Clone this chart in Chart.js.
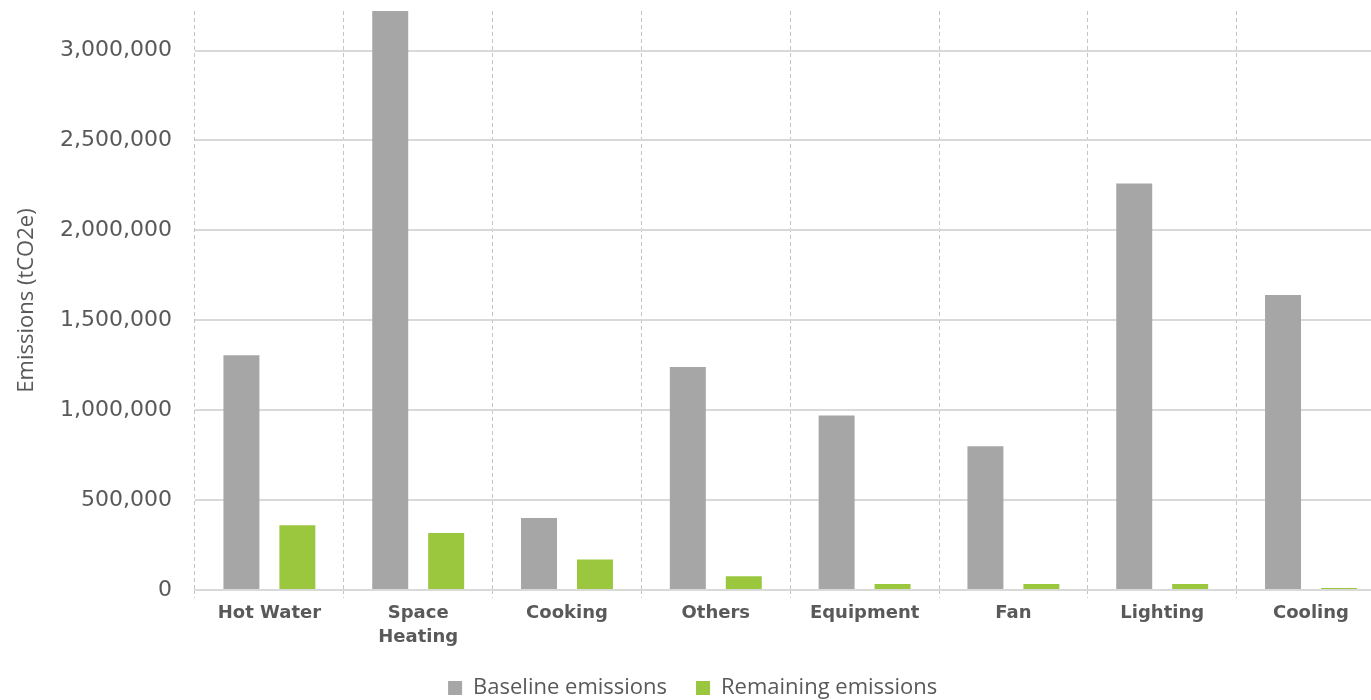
<!DOCTYPE html>
<html>
<head>
<meta charset="utf-8">
<style>
  html, body { margin: 0; padding: 0; background: #ffffff; overflow: hidden; }
  #wrap { width: 1400px; height: 700px; }
</style>
<script src="https://cdn.jsdelivr.net/npm/chart.js@4.4.1/dist/chart.umd.min.js"></script>
</head>
<body>
<div id="wrap"><canvas id="chart" width="1400" height="700"></canvas></div>
<script>
// End-use categories (two-line labels are arrays)
const categories = ['Hot Water', ['Space', 'Heating'], 'Cooking', 'Others', 'Equipment', 'Fan', 'Lighting', 'Cooling'];

// Emissions by end use, tCO2e
const baselineEmissions  = [1305000, 3300000, 400000, 1240000, 970000, 800000, 2260000, 1640000];
const remainingEmissions = [360000, 317000, 170000, 77000, 33000, 33000, 33000, 11000];

const seriesNames = ['Baseline emissions', 'Remaining emissions'];

// Value axis: visible range and labelled ticks
const yAxisMax = 3220000;
const yTickValues = [0, 500000, 1000000, 1500000, 2000000, 2500000, 3000000];

const textColor = '#595959';

new Chart(document.getElementById('chart'), {
  type: 'bar',
  data: {
    labels: categories,
    datasets: [
      {
        label: seriesNames[0],
        data: baselineEmissions,
        backgroundColor: '#A6A6A6',
        borderWidth: 0,
        categoryPercentage: 0.752,
        barPercentage: 0.643
      },
      {
        label: seriesNames[1],
        data: remainingEmissions,
        backgroundColor: '#9AC73D',
        borderWidth: 0,
        categoryPercentage: 0.752,
        barPercentage: 0.643
      }
    ]
  },
  options: {
    responsive: false,
    animation: false,
    devicePixelRatio: 1,
    layout: { padding: { top: 11, left: 0, right: 14.6, bottom: 0 } },
    plugins: {
      tooltip: { enabled: false },
      legend: {
        position: 'bottom',
        maxHeight: 52,
        labels: {
          color: textColor,
          font: { family: '"Open Sans", sans-serif', size: 22 },
          boxWidth: 14,
          boxHeight: 14,
          padding: 29
        }
      }
    },
    scales: {
      x: {
        grid: {
          color: '#C4C4C4',
          lineWidth: 1,
          offset: true,
          drawTicks: true,
          tickLength: 8,
          tickColor: '#C4C4C4',
          tickBorderDash: [3, 3]
        },
        border: { display: true, color: '#D9D9D9', width: 2, dash: [4, 3] },
        ticks: {
          color: textColor,
          font: { family: '"DejaVu Sans", sans-serif', size: 18, weight: 'bold', lineHeight: 1.33 },
          padding: 3,
          maxRotation: 0,
          autoSkip: false
        },
        afterFit(scale) {
          scale.height = 58;
          scale.paddingLeft = 0;
          scale.paddingRight = 0;
        }
      },
      y: {
        min: 0,
        max: yAxisMax,
        grid: {
          color: '#D9D9D9',
          lineWidth: 2,
          drawTicks: false
        },
        border: { display: false },
        ticks: {
          color: textColor,
          padding: 23,
          font: { family: '"DejaVu Sans", sans-serif', size: 22 },
          callback: (v) => v.toLocaleString('en-US')
        },
        afterBuildTicks(scale) {
          scale.ticks = yTickValues.map(v => ({ value: v }));
        },
        title: {
          display: true,
          text: 'Emissions (tCO2e)',
          color: textColor,
          font: { family: '"Open Sans", sans-serif', size: 22, lineHeight: 1.2 },
          padding: { top: 14, bottom: 0 }
        },
        afterFit(scale) {
          scale.width = 195;
          scale.paddingTop = 0;
          scale.paddingBottom = 0;
        }
      }
    }
  }
});
</script>
</body>
</html>
